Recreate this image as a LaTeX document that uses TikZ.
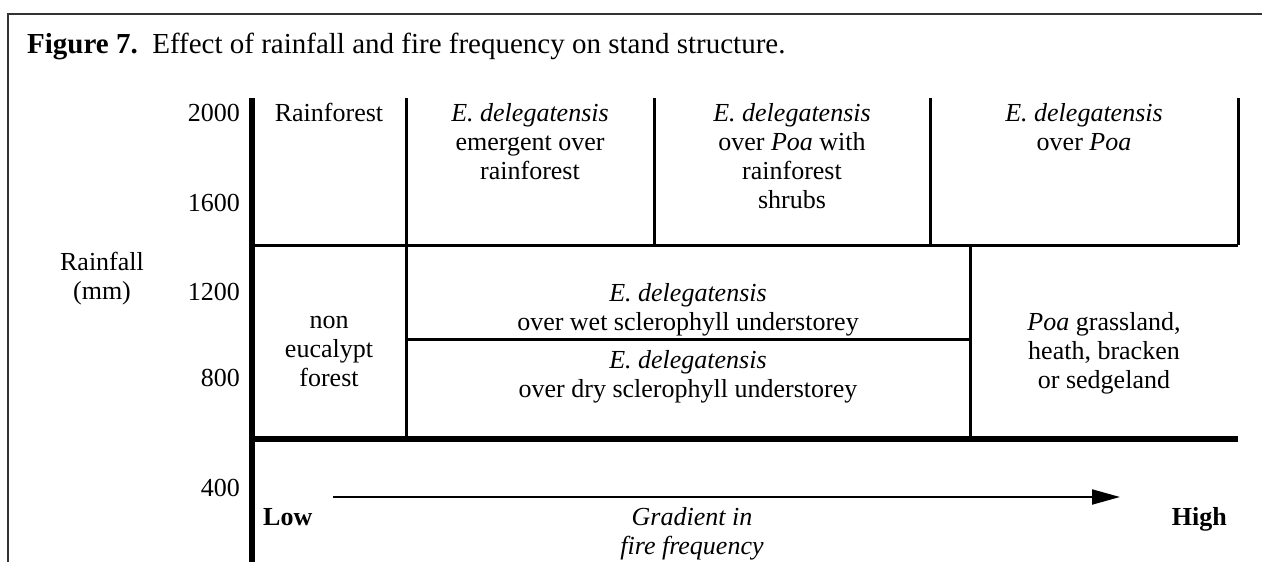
\documentclass[tikz,border=0pt]{standalone}
\usepackage{fontspec}
\setmainfont{Liberation Serif}
\usepackage{tikz}
\usetikzlibrary{arrows.meta}

\begin{document}
\begin{tikzpicture}[x=1pt, y=-1pt,
		every node/.style={font=\fontsize{26}{29}\selectfont, inner sep=0pt},
		cell/.style={align=center, anchor=base},
		tick/.style={anchor=base east},
		frame/.style={line width=2pt, color=black!80},
		grid/.style={line width=3pt},
		axis/.style={line width=6pt}]
		\useasboundingbox (0,0) rectangle (1262,562);
		
		\draw [frame] (8,562) -- (8,14) -- (1262,14);
		\node [anchor=base west, font=\fontsize{29}{32}\selectfont] (title) at (27,53) {\textbf{Figure 7.}\ \ Effect of rainfall and fire frequency on stand structure.};
		
		% axis and cells
		\draw [axis] (252,98) -- (252,562);
		\draw [axis] (249,439) -- (1238,439);
		\draw [grid] (252,245) -- (1238,245);
		\draw [grid] (406,98) -- (406,439);
		\draw [grid] (654,98) -- (654,245);
		\draw [grid] (930,98) -- (930,245);
		\draw [grid] (1238,98) -- (1238,245);
		\draw [grid] (970,245) -- (970,439);
		\draw [grid] (406,339) -- (970,339);
		
		% rainfall scale
		\node [cell] (rain) at (102,299) {Rainfall\\(mm)};
		\node [tick] (r2000) at (240,121) {2000};
		\node [tick] (r1600) at (240,211) {1600};
		\node [tick] (r1200) at (240,300) {1200};
		\node [tick] (r800) at (240,386) {800};
		\node [tick] (r400) at (240,496) {400};
		
		% upper row (base = last line)
		\node [cell] (rainforest) at (329,121) {Rainforest};
		\node [cell] (emergent) at (530,179) {\textit{E. delegatensis}\\emergent over\\rainforest};
		\node [cell] (shrubs) at (792,208) {\textit{E. delegatensis}\\over \textit{Poa} with\\rainforest\\shrubs};
		\node [cell] (overpoa) at (1084,150) {\textit{E. delegatensis}\\over \textit{Poa}};
		
		% lower row
		\node [cell] (noneuc) at (329,386) {non\\eucalypt\\forest};
		\node [cell] (wet) at (688,330) {\textit{E. delegatensis}\\over wet sclerophyll understorey};
		\node [cell] (dry) at (688,397) {\textit{E. delegatensis}\\over dry sclerophyll understorey};
		\node [cell] (grass) at (1104,388) {\textit{Poa} grassland,\\heath, bracken\\or sedgeland};
		
		% fire gradient
		\coordinate (fireL) at (333,497);
		\coordinate (fireR) at (1120,497);
		\draw [line width=2pt, -{Triangle[length=28pt, width=15pt]}] (fireL) -- (fireR);
		\node [anchor=base west] (low) at (263,525) {\textbf{Low}};
		\node [anchor=base east] (high) at (1227,525) {\textbf{High}};
		\node [cell] (gradient) at (692,554) {\textit{Gradient in}\\\textit{fire frequency}};
		
	\end{tikzpicture}
\end{document}
